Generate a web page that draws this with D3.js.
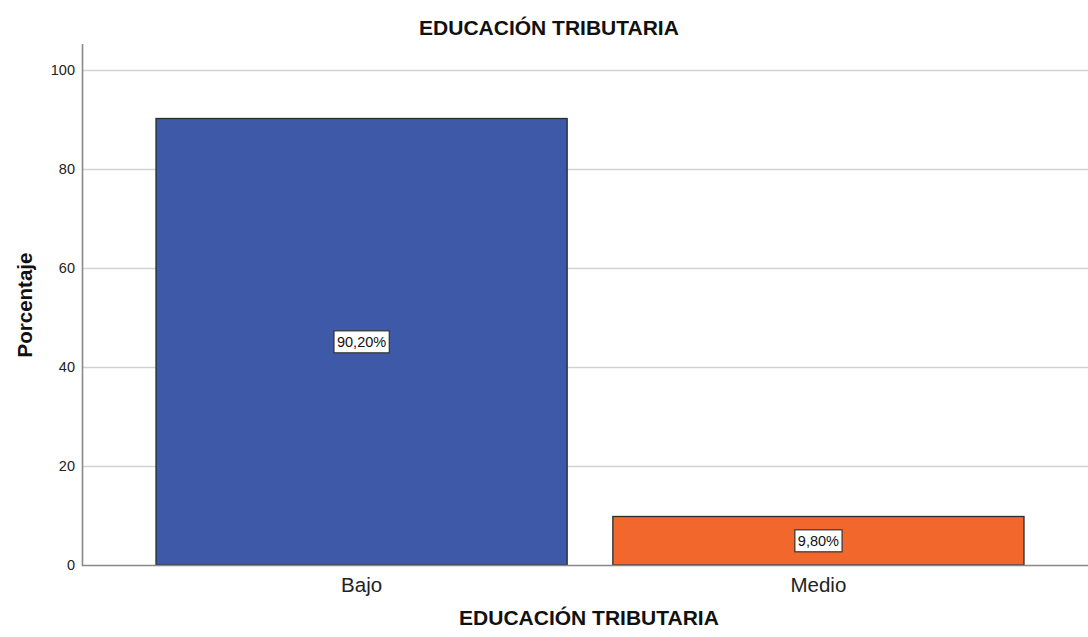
<!DOCTYPE html>
<html>
<head>
<meta charset="utf-8">
<script src="https://cdn.jsdelivr.net/npm/d3@7"></script>
<style>
  html, body { margin: 0; padding: 0; background: #fff; }
  svg { display: block; font-family: "Liberation Sans", Arial, sans-serif; }
</style>
</head>
<body>
<svg id="chart" width="1088" height="637"></svg>
<script>
// Distribution of the "Educación tributaria" level
const categories = ["Bajo", "Medio"];
const percentages = [90.2, 9.8];
const valueLabels = ["90,20%", "9,80%"];
const barColors = ["#3e59a8", "#f2682c"];
const yTicks = [0, 20, 40, 60, 80, 100];

const svg = d3.select("#chart");
const width = 1088, height = 637;
const plot = { left: 82, right: 1098, top: 44, bottom: 565 };
const FONT = "Liberation Sans, Arial, sans-serif";

const x = d3.scaleBand()
  .domain(categories)
  .range([plot.left, plot.right])
  .paddingInner(0.1)
  .paddingOuter(0.162);

const y = d3.scaleLinear()
  .domain([0, 100])
  .range([plot.bottom, 70]);

// horizontal gridlines
svg.append("g")
  .selectAll("line")
  .data(yTicks.filter(d => d > 0))
  .join("line")
  .attr("x1", plot.left)
  .attr("x2", width)
  .attr("y1", d => Math.round(y(d)) + 0.5)
  .attr("y2", d => Math.round(y(d)) + 0.5)
  .attr("stroke", "#d2d2d2")
  .attr("stroke-width", 1.6);

// bars
svg.append("g")
  .selectAll("rect")
  .data(categories)
  .join("rect")
  .attr("x", d => x(d))
  .attr("y", (d, i) => y(percentages[i]))
  .attr("width", x.bandwidth())
  .attr("height", (d, i) => y(0) - y(percentages[i]))
  .attr("fill", (d, i) => barColors[i])
  .attr("stroke", "#2b2b2b")
  .attr("stroke-width", 1.3);

// y axis
const yAxis = svg.append("g")
  .attr("transform", `translate(${plot.left},0)`)
  .call(d3.axisLeft(y).tickValues(yTicks).tickSize(0).tickPadding(7));
yAxis.select(".domain").remove();
yAxis.selectAll("text")
  .attr("font-size", 14.5)
  .attr("fill", "#222")
  .attr("font-family", FONT);
svg.append("line")
  .attr("x1", plot.left + 0.5).attr("x2", plot.left + 0.5)
  .attr("y1", plot.top).attr("y2", plot.bottom + 1)
  .attr("stroke", "#888").attr("stroke-width", 1.6);

// x axis
const xAxis = svg.append("g")
  .attr("transform", `translate(0,${plot.bottom})`)
  .call(d3.axisBottom(x).tickSize(0).tickPadding(12));
xAxis.select(".domain").remove();
xAxis.selectAll("text")
  .attr("font-size", 20.5)
  .attr("fill", "#222")
  .attr("font-family", FONT);
svg.append("line")
  .attr("x1", plot.left).attr("x2", width)
  .attr("y1", plot.bottom + 0.5).attr("y2", plot.bottom + 0.5)
  .attr("stroke", "#888").attr("stroke-width", 1.6);

// value labels in boxes
const labels = svg.append("g")
  .selectAll("g")
  .data(categories)
  .join("g")
  .attr("transform", (d, i) => {
    const cx = x(d) + x.bandwidth() / 2;
    const cy = (y(percentages[i]) + y(0)) / 2;
    return `translate(${cx},${cy})`;
  });
labels.append("text")
  .attr("text-anchor", "middle")
  .attr("dy", "0.35em")
  .attr("font-size", 14.5)
  .attr("fill", "#111")
  .text((d, i) => valueLabels[i]);
labels.each(function () {
  const g = d3.select(this);
  const bb = g.select("text").node().getBBox();
  g.insert("rect", "text")
    .attr("x", bb.x - 3)
    .attr("y", bb.y - 3)
    .attr("width", bb.width + 6)
    .attr("height", bb.height + 6)
    .attr("fill", "#fff")
    .attr("stroke", "#333")
    .attr("stroke-width", 1.2);
});

// titles
svg.append("text")
  .attr("x", 549).attr("y", 35)
  .attr("text-anchor", "middle")
  .attr("font-size", 21).attr("font-weight", "bold")
  .attr("fill", "#111")
  .text("EDUCACIÓN TRIBUTARIA");

svg.append("text")
  .attr("x", 589).attr("y", 625)
  .attr("text-anchor", "middle")
  .attr("font-size", 21).attr("font-weight", "bold")
  .attr("fill", "#111")
  .text("EDUCACIÓN TRIBUTARIA");

svg.append("text")
  .attr("transform", "translate(32,305) rotate(-90)")
  .attr("text-anchor", "middle")
  .attr("font-size", 20.5).attr("font-weight", "bold")
  .attr("fill", "#111")
  .text("Porcentaje");
</script>
</body>
</html>
